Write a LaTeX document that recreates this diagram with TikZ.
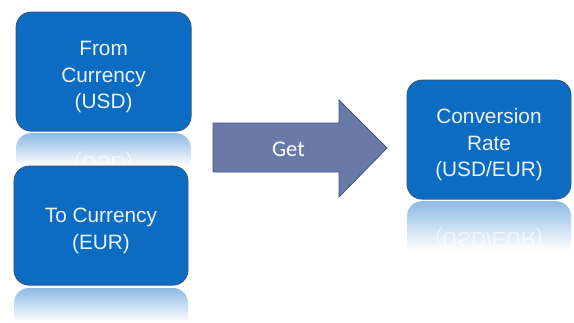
\documentclass[tikz,border=0pt]{standalone}
\usepackage{fontspec}
\setmainfont{Liberation Sans}
\newfontfamily\calibrifont{Carlito}
\usepackage{tikz}
\usetikzlibrary{positioning}

\definecolor{boxblue}{RGB}{12, 108, 194}
\definecolor{boxedge}{RGB}{52, 84, 138}
\definecolor{boxtext}{RGB}{236, 243, 251}
\definecolor{reflblue}{RGB}{142, 186, 228}
\definecolor{arrowfill}{RGB}{106, 122, 168}
\definecolor{arrowedge}{RGB}{72, 86, 132}

% taller first line, so the text sits a little lower in its box
\newcommand{\firstline}{\rule{0pt}{18pt}}

\tikzset{
  curbox/.style={draw=boxedge, line width=0.6pt, fill=boxblue, rounded corners=0.375cm,
    minimum height=2.975cm, inner sep=0pt, align=center, text=boxtext,
    font=\fontsize{14.8}{19}\selectfont},
  refltext/.style={text=white, opacity=0.6, yscale=-1, transform shape,
    font=\fontsize{14.8}{19}\selectfont},
  getlabel/.style={text=white, font=\calibrifont\fontsize{16}{19}\selectfont}
}

\begin{document}
\begin{tikzpicture}
  \useasboundingbox (0,0) rectangle (14.35,-8.05);

  % Reflections under the boxes
  \shade[top color=reflblue, bottom color=white]
    (0.4,-4.15) {[rounded corners=0.375cm] -- (0.4,-3.33) -- (4.775,-3.33)} -- (4.775,-4.15) -- cycle;
  \node[refltext] (fromrefl) at (2.59,-4.05) {(USD)};
  \shade[top color=reflblue, bottom color=white]
    (0.35,-8.05) {[rounded corners=0.375cm] -- (0.35,-7.2) -- (4.7,-7.2)} -- (4.7,-8.05) -- cycle;
  \shade[top color=reflblue, bottom color=white]
    (10.175,-6.25) {[rounded corners=0.375cm] -- (10.175,-5.03) -- (14.275,-5.03)} -- (14.275,-6.25) -- cycle;
  \node[refltext] (convrefl) at (12.225,-5.95) {(USD/EUR)};

  % Source and target currencies
  \node[curbox, minimum width=4.375cm] (from) at (2.59,-1.79) {\firstline From\\Currency\\(USD)};
  \node[curbox, minimum width=4.35cm] (to) at (2.525,-5.64) {\firstline To Currency\\(EUR)};

  % Result
  \node[curbox, minimum width=4.1cm] (conv) at (12.225,-3.49) {\firstline Conversion\\Rate\\(USD/EUR)};

  % Block arrow
  \filldraw[fill=arrowfill, draw=arrowedge, line width=0.6pt]
    (5.325,-3.075) -- (8.475,-3.075) -- (8.475,-2.5) -- (9.675,-3.7)
    -- (8.475,-4.925) -- (8.475,-4.3) -- (5.325,-4.3) -- cycle;
  \node[getlabel] (get) at (7.21,-3.72) {Get};
\end{tikzpicture}
\end{document}
